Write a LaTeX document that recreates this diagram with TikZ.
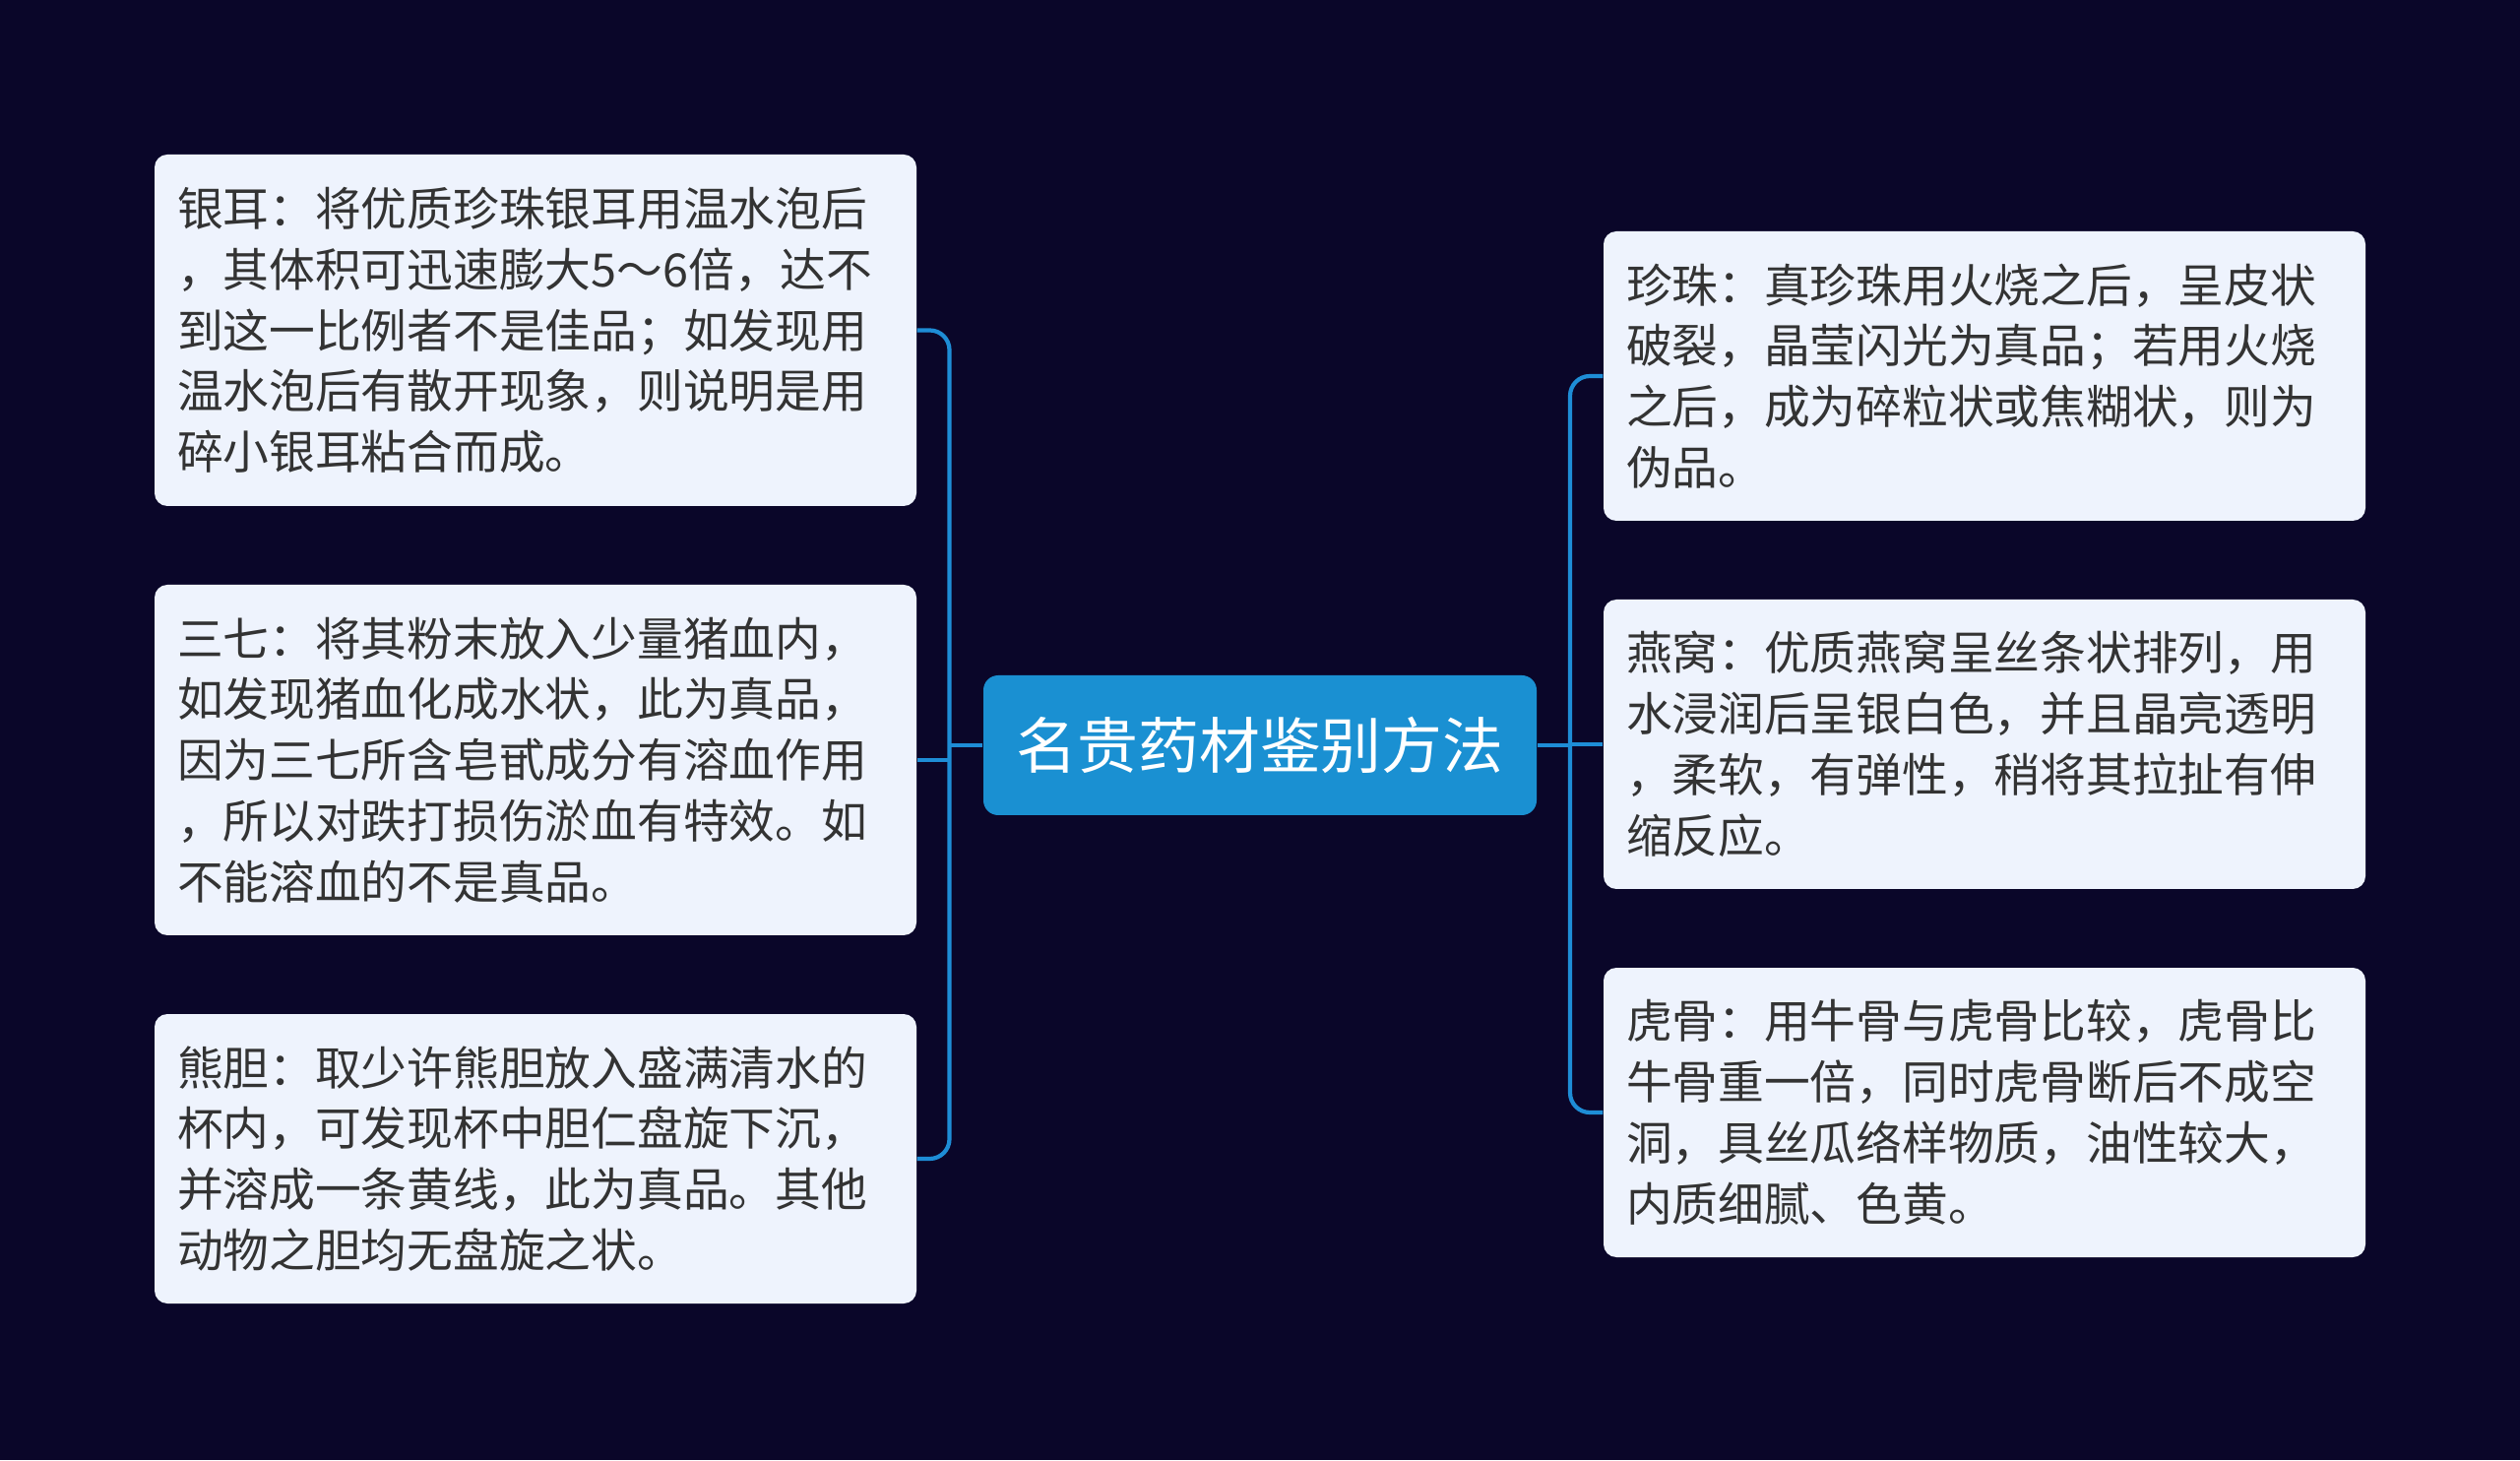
\documentclass[tikz,border=0pt]{standalone}
\usepackage{fontspec}
\setmainfont{Noto Sans CJK SC}
\usetikzlibrary{positioning,calc}
\definecolor{nightBg}{HTML}{0A0629}
\definecolor{topicBlue}{HTML}{1A90D2}
\definecolor{linkBlue}{HTML}{1E8DD6}
\definecolor{cardFill}{HTML}{EEF3FD}
\definecolor{ink}{HTML}{333333}

\begin{document}
\begin{tikzpicture}[
  card/.style={fill=cardFill, rounded corners=0.13cm, minimum width=7.74cm, text width=7.28cm, inner xsep=0.23cm, inner ysep=0pt, align=left, text=ink, font=\fontsize{13.3}{17.6}\selectfont},
  topic/.style={fill=topicBlue, rounded corners=0.15cm, minimum width=5.62cm, minimum height=1.42cm, inner sep=0pt, text=white, font=\fontsize{17.6}{20}\selectfont},
  link/.style={draw=linkBlue, line width=1.2pt, rounded corners=0.2cm}
]
\useasboundingbox (0,0) rectangle (25.6,14.83);
\fill[nightBg] (0,0) rectangle (25.6,14.83);

% ------------------------------------------------------------------
% central topic
% ------------------------------------------------------------------
\node[topic] (topic) at (12.80,7.26) {名贵药材鉴别方法};

% ------------------------------------------------------------------
% left branch
% ------------------------------------------------------------------
\node[card, minimum height=3.57cm] (yiner) at (5.44,11.475)
{银耳：将优质珍珠银耳用温水泡后\\，其体积可迅速膨大5～6倍，达不\\到这一比例者不是佳品；如发现用\\温水泡后有散开现象，则说明是用\\碎小银耳粘合而成。};
\node[card, minimum height=3.56cm] (sanqi) at (5.44,7.11)
{三七：将其粉末放入少量猪血内，\\如发现猪血化成水状，此为真品，\\因为三七所含皂甙成分有溶血作用\\，所以对跌打损伤淤血有特效。如\\不能溶血的不是真品。};
\node[card, minimum height=2.94cm] (xiongdan) at (5.44,3.06)
{熊胆：取少许熊胆放入盛满清水的\\杯内，可发现杯中胆仁盘旋下沉，\\并溶成一条黄线，此为真品。其他\\动物之胆均无盘旋之状。};

% ------------------------------------------------------------------
% right branch
% ------------------------------------------------------------------
\node[card, minimum height=2.94cm] (zhenzhu) at (20.16,11.01)
{珍珠：真珍珠用火烧之后，呈皮状\\破裂，晶莹闪光为真品；若用火烧\\之后，成为碎粒状或焦糊状，则为\\伪品。};
\node[card, minimum height=2.94cm] (yanwo) at (20.16,7.27)
{燕窝：优质燕窝呈丝条状排列，用\\水浸润后呈银白色，并且晶亮透明\\，柔软，有弹性，稍将其拉扯有伸\\缩反应。};
\node[card, minimum height=2.94cm] (hugu) at (20.16,3.53)
{虎骨：用牛骨与虎骨比较，虎骨比\\牛骨重一倍，同时虎骨断后不成空\\洞，具丝瓜络样物质，油性较大，\\内质细腻、色黄。};

% connectors
\coordinate (lbus) at (9.645,7.26);
\coordinate (rbus) at (15.95,7.26);
\draw[link] (yiner.east) -| (lbus) |- (xiongdan.east);
\draw[link] (sanqi.east) -- (sanqi.east -| lbus);
\draw[link] (topic.west) -- (topic.west -| lbus);
\draw[link] (zhenzhu.west) -| (rbus) |- (hugu.west);
\draw[link] (yanwo.west) -- (yanwo.west -| rbus);
\draw[link] (topic.east) -- (topic.east -| rbus);

\end{tikzpicture}
\end{document}
